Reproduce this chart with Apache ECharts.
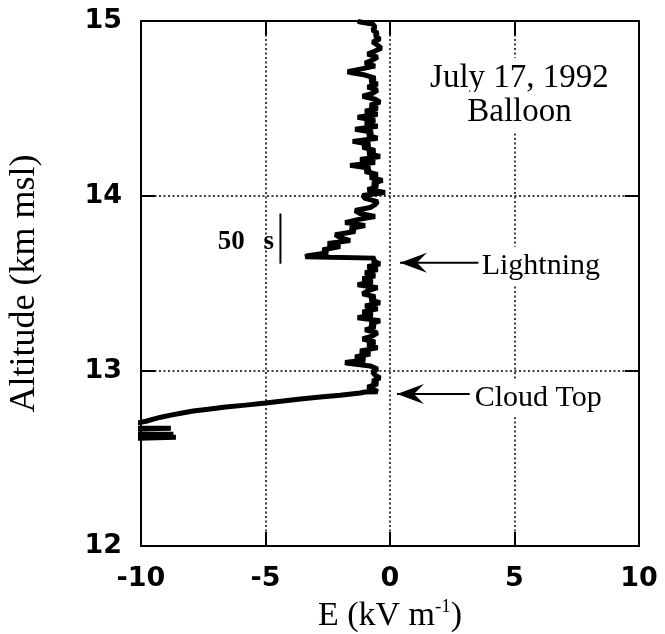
<!DOCTYPE html>
<html><head><meta charset="utf-8">
<script src="https://cdn.jsdelivr.net/npm/echarts@6/dist/echarts.min.js"></script>
<style>html,body{margin:0;padding:0;background:#fff}#c{width:665px;height:634px}</style>
</head><body><div id="c"></div>
<script>
// Altitude (km msl) of each sample, top to bottom
const altitude = [
 15.000,14.994,14.983,14.966,14.948,14.931,14.914,14.897,14.880,14.862,14.845,14.828,14.811,14.794,14.777,14.759,
 14.742,14.725,14.710,14.706,14.691,14.673,14.656,14.639,14.622,14.605,14.587,14.570,14.553,14.536,14.519,14.501,
 14.484,14.467,14.450,14.433,14.415,14.398,14.381,14.364,14.347,14.330,14.312,14.295,14.278,14.261,14.244,
 14.226,14.209,14.192,14.175,14.158,14.140,14.123,14.106,14.089,14.072,14.054,14.037,14.020,14.003,13.986,
 13.968,13.951,13.934,13.917,13.900,13.883,13.865,13.848,13.831,13.814,13.797,13.779,13.762,13.745,13.728,
 13.711,13.693,13.676,13.659,13.653,13.650,13.645,13.630,13.613,13.596,13.579,13.562,13.544,13.527,13.510,13.493,
 13.476,13.458,13.441,13.424,13.407,13.390,13.372,13.355,13.338,13.321,13.304,13.287,13.269,13.252,13.235,
 13.218,13.201,13.183,13.166,13.149,13.132,13.115,13.097,13.080,13.063,13.048,13.044,13.029,13.011,12.994,12.977,
 12.960,12.943,12.926,12.908,12.891,12.882,12.880,12.874,12.862,12.851,12.840,12.828,12.817,12.805,12.794,12.782,
 12.771,12.759,12.748,12.736,12.725,12.713,12.702,12.685,12.673,12.673,12.668,12.650,12.639,12.639,12.633,12.622,12.622,12.616
];
// Electric field E (kV/m) of each sample
const efield = [
 -1.3,-1.2,-0.7,-0.6,-0.7,-0.5,-0.6,-0.4,-0.7,-0.5,-0.35,-0.6,-0.9,-0.5,-0.7,-1.0,
 -0.6,-1.2,-1.7,-1.6,-1.0,-0.6,-0.8,-0.5,-0.9,-0.5,-0.7,-1.1,-0.6,-0.4,-0.8,-0.5,
 -1.0,-0.5,-1.3,-0.6,-1.0,-0.5,-1.4,-0.7,-0.9,-0.5,-1.5,-0.8,-1.1,-0.6,-0.9,
 -0.4,-1.2,-0.6,-1.6,-0.8,-1.0,-0.5,-0.8,-0.3,-0.7,-0.5,-0.9,-0.2,-1.1,-1.0,
 -0.5,-0.6,-0.8,-1.4,-1.2,-0.6,-1.3,-1.8,-1.0,-1.6,-1.4,-2.2,-2.0,-1.6,-2.5,
 -2.0,-2.7,-2.5,-3.3,-3.4,-2.4,-0.6,-0.7,-0.4,-0.9,-0.5,-1.0,-0.6,-1.1,-0.7,-1.3,
 -0.5,-0.9,-1.1,-0.6,-0.8,-0.4,-1.0,-0.5,-1.1,-0.7,-1.3,-0.4,-0.8,-0.6,-1.0,
 -0.5,-0.7,-1.1,-0.6,-0.9,-0.5,-1.2,-0.8,-1.4,-1.0,-1.8,-1.7,-0.8,-0.5,-0.7,-0.6,
 -0.4,-0.7,-0.5,-0.9,-0.6,-0.5,-1.0,-1.2,-2.0,-2.8,-3.6,-4.3,-5.0,-5.8,-6.6,-7.3,
 -7.9,-8.4,-8.8,-9.2,-9.5,-9.8,-10.2,-10.5,-10.5,-8.8,-10.5,-10.3,-10.4,-8.7,-10.4,-10.4,-8.6,-10.2
];
const xRange = [-10, 10];
const yRange = [12, 15];
const xStep = 5;
const yStep = 1;

// Annotations in data coordinates [E, altitude]
const dateText = 'July 17, 1992';
const dateAt = [5.2, 14.673];
const platformText = 'Balloon';
const platformAt = [5.2, 14.479];
const lightningText = 'Lightning';
const lightningTextAt = [3.6, 13.602];
const lightningArrow = [[3.55, 13.619], [0.4, 13.619]];
const cloudText = 'Cloud Top';
const cloudTextAt = [3.32, 12.845];
const cloudArrow = [[3.2, 12.868], [0.28, 12.868]];
const scaleNum = '50';
const scaleNumAt = [-6.92, 13.739];
const scaleUnit = 's';
const scaleUnitAt = [-5.08, 13.739];
const scaleBar = [[-4.4, 13.900], [-4.4, 13.613]];

const SERIF = '"Liberation Serif","Times New Roman",serif';
const SANS = '"DejaVu Sans",sans-serif';

const chart = echarts.init(document.getElementById('c'), null, {renderer: 'canvas'});
const pairs = altitude.map((a, i) => [efield[i], a]);

const axisLine = {show: true, onZero: false, lineStyle: {color: '#000', width: 2}};
const axisTick = {show: true, inside: true, length: 14, lineStyle: {color: '#000', width: 2}};
const split = {show: true, lineStyle: {color: '#000', width: 1.5, type: [2, 2.5]}};

chart.setOption({
  animation: false,
  backgroundColor: '#fff',
  grid: {left: 141, right: 26, top: 21, bottom: 88, containLabel: false, outerBoundsMode: 'none'},
  xAxis: [
    {type: 'value', position: 'bottom', min: xRange[0], max: xRange[1], interval: xStep,
     axisLine, axisTick, splitLine: split,
     axisLabel: {color: '#000', fontFamily: SANS, fontWeight: 'bold', fontSize: 27, margin: 19},
     name: 'E (kV m{sup|-1})', nameLocation: 'middle', nameGap: 52,
     nameTextStyle: {color: '#000', fontFamily: SERIF, fontSize: 34, lineHeight: 36,
       rich: {sup: {fontFamily: SERIF, fontSize: 19, verticalAlign: 'top', lineHeight: 36, color: '#000'}}}},
    {type: 'value', position: 'top', min: xRange[0], max: xRange[1], interval: xStep,
     axisLine, axisTick, splitLine: {show: false}, axisLabel: {show: false}}
  ],
  yAxis: [
    {type: 'value', position: 'left', min: yRange[0], max: yRange[1], interval: yStep,
     axisLine, axisTick, splitLine: split,
     axisLabel: {color: '#000', fontFamily: SANS, fontWeight: 'bold', fontSize: 27, margin: 19},
     name: 'Altitude (km msl)', nameLocation: 'middle', nameGap: 98, nameRotate: 90,
     nameTextStyle: {color: '#000', fontFamily: SERIF, fontSize: 36}},
    {type: 'value', position: 'right', min: yRange[0], max: yRange[1], interval: yStep,
     axisLine, axisTick, splitLine: {show: false}, axisLabel: {show: false}}
  ],
  series: [{
    type: 'line', data: pairs, xAxisIndex: 0, yAxisIndex: 0,
    symbol: 'none', clip: true,
    lineStyle: {color: '#000', width: 5, join: 'bevel'}
  }]
});

function px(p) { return chart.convertToPixel({xAxisIndex: 0, yAxisIndex: 0}, p); }
function txt(s, at, opt) {
  const p = px(at);
  return {type: 'text', x: p[0], y: p[1], z: 50,
    style: Object.assign({text: s, fill: '#000', font: '30px ' + SERIF, align: 'center', verticalAlign: 'middle'}, opt)};
}
function arrow(seg) {
  const a = px(seg[0]), b = px(seg[1]);
  return [
    {type: 'line', z: 50, shape: {x1: a[0], y1: a[1], x2: b[0], y2: b[1]}, style: {stroke: '#000', lineWidth: 2}},
    {type: 'polygon', z: 50, shape: {points: [[b[0], b[1]], [b[0] + 27, b[1] - 10], [b[0] + 17, b[1]], [b[0] + 27, b[1] + 10]]},
     style: {fill: '#000'}}
  ];
}
const sb0 = px(scaleBar[0]), sb1 = px(scaleBar[1]);
const g = [
  txt(dateText, dateAt, {font: '33px ' + SERIF, backgroundColor: '#fff', padding: [4, 4]}),
  txt(platformText, platformAt, {font: '33px ' + SERIF, backgroundColor: '#fff', padding: [4, 4]}),
  txt(lightningText, lightningTextAt, {align: 'left', backgroundColor: '#fff', padding: [4, 2]}),
  txt(cloudText, cloudTextAt, {align: 'left', backgroundColor: '#fff', padding: [4, 2]}),
  txt(scaleNum, scaleNumAt, {align: 'left', font: 'bold 27px ' + SERIF}),
  txt(scaleUnit, scaleUnitAt, {align: 'left', font: 'bold 27px ' + SERIF}),
  {type: 'line', z: 50, shape: {x1: sb0[0], y1: sb0[1], x2: sb1[0], y2: sb1[1]}, style: {stroke: '#000', lineWidth: 2}}
].concat(arrow(lightningArrow), arrow(cloudArrow));
chart.setOption({graphic: g});
</script>
</body></html>
